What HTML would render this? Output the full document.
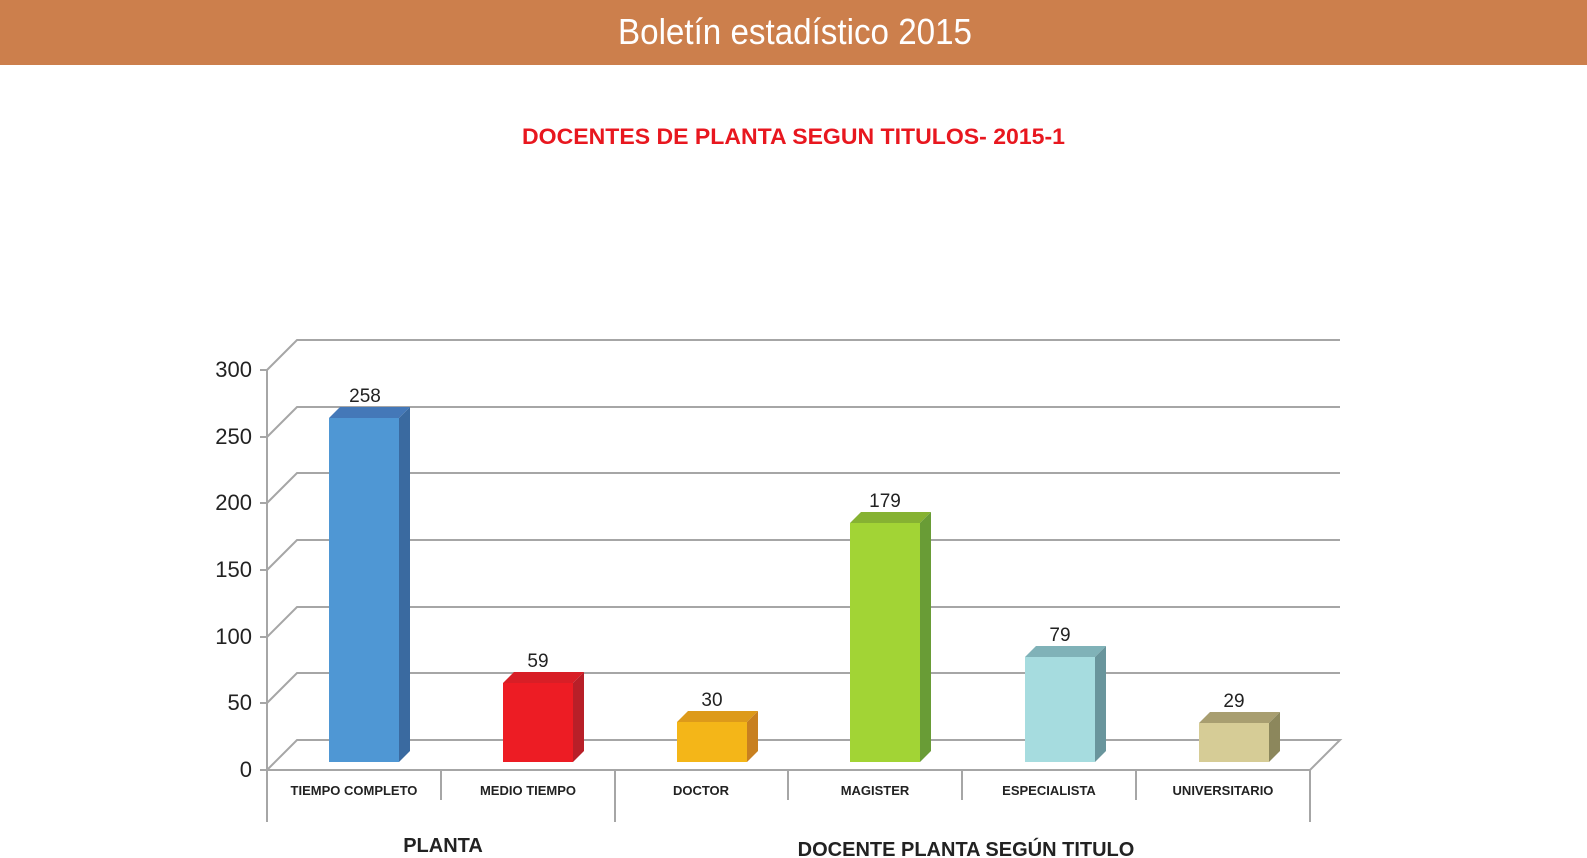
<!DOCTYPE html>
<html><head><meta charset="utf-8"><style>
html,body{margin:0;padding:0;background:#fff;}
svg{display:block;}
</style></head><body>
<svg width="1587" height="858" viewBox="0 0 1587 858" xmlns="http://www.w3.org/2000/svg" font-family="Liberation Sans, DejaVu Sans, sans-serif">
<rect x="0" y="0" width="1587" height="65" fill="#CC7F4C"/>
<text x="618" y="44" font-size="36" fill="#fff" textLength="354" lengthAdjust="spacingAndGlyphs">Boletín estadístico 2015</text>
<text x="522" y="144" font-size="22" font-weight="bold" fill="#E8171F" textLength="543" lengthAdjust="spacingAndGlyphs">DOCENTES DE PLANTA SEGUN TITULOS- 2015-1</text>
<g stroke="#A6A6A6" stroke-width="2" fill="none">
<!-- back gridlines & diagonals -->
<path d="M267 370 L297 340 H1340"/>
<path d="M267 437 L297 407 H1340"/>
<path d="M267 503 L297 473 H1340"/>
<path d="M267 570 L297 540 H1340"/>
<path d="M267 637 L297 607 H1340"/>
<path d="M267 703 L297 673 H1340"/>
<path d="M267 770 L297 740 H1340 L1310 770 H267"/>
<path d="M267 370 V822"/>
<path d="M260 370H267M260 437H267M260 503H267M260 570H267M260 637H267M260 703H267M260 770H267"/>
<path d="M441 770V800M788 770V800M962 770V800M1136 770V800"/>
<path d="M615 770V822M1310 770V822"/>
</g>
<g font-size="22" fill="#222" text-anchor="end">
<text x="252" y="377">300</text><text x="252" y="444">250</text><text x="252" y="510">200</text>
<text x="252" y="577">150</text><text x="252" y="644">100</text><text x="252" y="710">50</text><text x="252" y="777">0</text>
</g>
<g id="bars">
<!-- blue 258 -->
<polygon points="329,418 399,418 410,407 340,407" fill="#4478B8"/>
<polygon points="399,418 410,407 410,751 399,762" fill="#3A6AA0"/>
<rect x="329" y="418" width="70" height="344" fill="#4F97D4"/>
<!-- red 59 -->
<polygon points="503,683 573,683 584,672 514,672" fill="#D81E26"/>
<polygon points="573,683 584,672 584,751 573,762" fill="#B81F28"/>
<rect x="503" y="683" width="70" height="79" fill="#ED1C24"/>
<!-- yellow 30 -->
<polygon points="677,722 747,722 758,711 688,711" fill="#DD9A1A"/>
<polygon points="747,722 758,711 758,751 747,762" fill="#C88020"/>
<rect x="677" y="722" width="70" height="40" fill="#F4B618"/>
<!-- green 179 -->
<polygon points="850,523 920,523 931,512 861,512" fill="#86B232"/>
<polygon points="920,523 931,512 931,751 920,762" fill="#699C36"/>
<rect x="850" y="523" width="70" height="239" fill="#A2D435"/>
<!-- cyan 79 -->
<polygon points="1025,657 1095,657 1106,646 1036,646" fill="#80B2B8"/>
<polygon points="1095,657 1106,646 1106,751 1095,762" fill="#69959C"/>
<rect x="1025" y="657" width="70" height="105" fill="#A6DCDF"/>
<!-- tan 29 -->
<polygon points="1199,723 1269,723 1280,712 1210,712" fill="#A89E70"/>
<polygon points="1269,723 1280,712 1280,751 1269,762" fill="#8C875C"/>
<rect x="1199" y="723" width="70" height="39" fill="#D6CC96"/>
</g>
<g font-size="19" fill="#222" text-anchor="middle">
<text x="365" y="402">258</text><text x="538" y="667">59</text><text x="712" y="706">30</text>
<text x="885" y="507">179</text><text x="1060" y="641">79</text><text x="1234" y="707">29</text>
</g>
<g font-size="13" font-weight="bold" fill="#222" text-anchor="middle">
<text x="354" y="795">TIEMPO COMPLETO</text>
<text x="528" y="795">MEDIO TIEMPO</text>
<text x="701" y="795">DOCTOR</text>
<text x="875" y="795">MAGISTER</text>
<text x="1049" y="795">ESPECIALISTA</text>
<text x="1223" y="795">UNIVERSITARIO</text>
</g>
<g font-size="20" font-weight="bold" fill="#222" text-anchor="middle">
<text x="443" y="852">PLANTA</text>
<text x="966" y="856">DOCENTE PLANTA SEGÚN TITULO</text>
</g>
</svg>
</body></html>
